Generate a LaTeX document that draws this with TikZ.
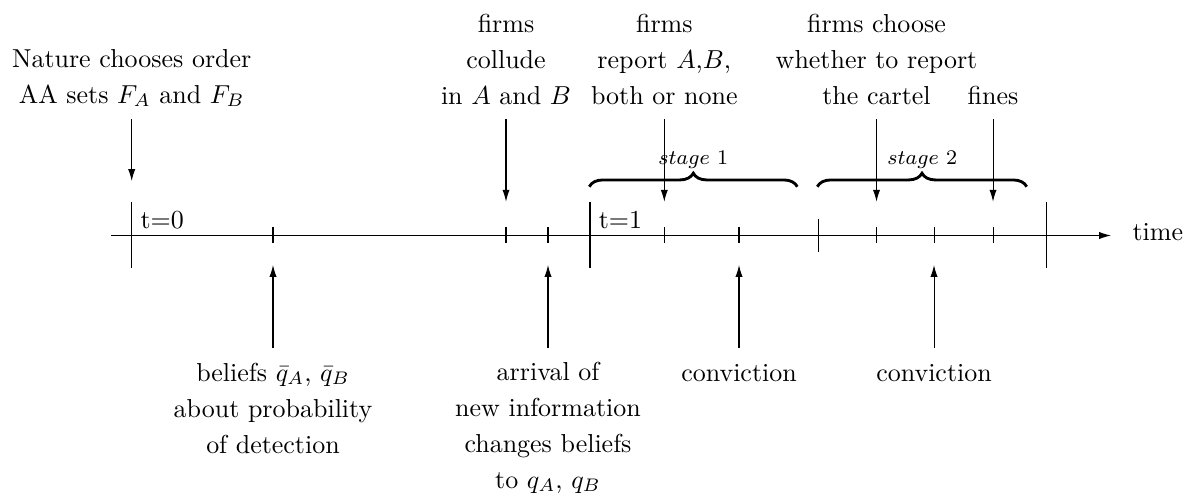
\documentclass[tikz,border=0pt]{standalone}
\usetikzlibrary{arrows.meta,decorations.pathreplacing}
\begin{document}
\begin{tikzpicture}[x=0.385pt,y=-0.385pt,
  lbl/.style={align=center,anchor=base,inner sep=0pt,font=\fontsize{10}{13.86}\selectfont},
  arr/.style={-{Latex[length=4.6pt,width=2.8pt]},line width=0.4pt},
  tick/.style={line width=0.4pt},
  brc/.style={decorate,decoration={brace,amplitude=5.2pt},line width=1.1pt},
  stg/.style={anchor=base,inner sep=0pt,font=\footnotesize}]
\useasboundingbox (0,0) rectangle (1185,492);
% axis
\coordinate (ax0) at (111,235.5);
\coordinate (ax1) at (1111,235.5);
\draw[arr] (ax0) -- (ax1);
\node[anchor=base west,inner sep=0pt] (time) at (1132,240) {time};
% big ticks
\foreach \n/\x in {b0/131.7,b1/590,b2/1046.7}{
  \coordinate (\n t) at (\x,201.7);
  \coordinate (\n b) at (\x,268.3);
  \draw[tick] (\n t) -- (\n b);
}
% medium tick
\coordinate (m1t) at (818.3,219);
\coordinate (m1b) at (818.3,251.7);
\draw[tick] (m1t) -- (m1b);
% small ticks
\foreach \n/\x in {s1/273,s2/506,s3/548,s4/664.3,s5/739,s6/876.5,s7/934,s8/993}{
  \coordinate (\n t) at (\x,227);
  \coordinate (\n b) at (\x,243.3);
  \draw[tick] (\n t) -- (\n b);
}
\node[anchor=base west,inner sep=0pt] (t0) at (140,228.3) {t=0};
\node[anchor=base west,inner sep=0pt] (t1) at (598.3,228.3) {t=1};
% top labels (base = last line)
\node[lbl] (nat) at (131.7,103) {Nature chooses order\\AA sets $F_A$ and $F_B$};
\node[lbl] (col) at (506,104) {firms\\collude\\in $A$ and $B$};
\node[lbl] (rep) at (664.3,104) {firms\\report $A$,$B$,\\both or none};
\node[lbl] (cho) at (876.5,104) {firms choose\\whether to report\\the cartel};
\node[lbl] (fin) at (993,104) {fines};
% down arrows
\coordinate (d0a) at (131.7,119); \coordinate (d0b) at (131.7,181);
\coordinate (d1a) at (506,119);   \coordinate (d1b) at (506,201.7);
\coordinate (d2a) at (664.3,119); \coordinate (d2b) at (664.3,201.7);
\coordinate (d3a) at (876.5,119); \coordinate (d3b) at (876.5,201.7);
\coordinate (d4a) at (993,119);   \coordinate (d4b) at (993,201.7);
\foreach \i in {0,...,4}{\draw[arr] (d\i a) -- (d\i b);}
% bottom labels
\node[lbl] (bel) at (273,453) {beliefs $\bar q_A$, $\bar q_B$\\about probability\\of detection};
\node[lbl] (arv) at (548,488) {arrival of\\new information\\changes beliefs\\to $q_A$, $q_B$};
\node[lbl] (cv1) at (739,381) {conviction};
\node[lbl] (cv2) at (934,381) {conviction};
% up arrows
\foreach \i/\x in {0/273,1/548,2/739,3/934}{
  \coordinate (u\i a) at (\x,348);
  \coordinate (u\i b) at (\x,265);
  \draw[arr] (u\i a) -- (u\i b);
}
% braces
\coordinate (br1a) at (589.3,186.7); \coordinate (br1b) at (797.3,186.7);
\coordinate (br2a) at (817.3,186.7); \coordinate (br2b) at (1026.7,186.7);
\draw[brc] (br1a) -- (br1b);
\draw[brc] (br2a) -- (br2b);
\node[stg] (st1) at (693.3,164) {$stage$ 1};
\node[stg] (st2) at (922.3,164) {$stage$ 2};
\end{tikzpicture}
\end{document}
